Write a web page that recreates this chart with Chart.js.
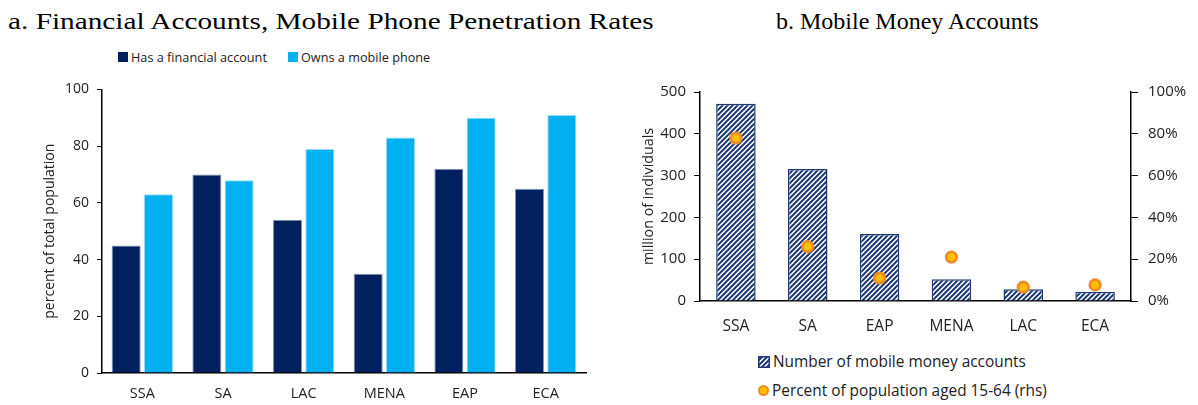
<!DOCTYPE html>
<html>
<head>
<meta charset="utf-8">
<script src="https://cdn.jsdelivr.net/npm/chart.js@4.4.1/dist/chart.umd.min.js"></script>
<style>
  html, body { margin: 0; padding: 0; background: #fff; }
  body { width: 1198px; height: 405px; position: relative; overflow: hidden; font-family: "Open Sans", "Noto Sans", sans-serif; color: #222; }
  .title { position: absolute; font-family: "Liberation Serif", "Times New Roman", serif; font-size: 24px; color: #000; white-space: nowrap; line-height: 1; transform-origin: 0 0; }
  .leg { position: absolute; font-size: 12.7px; white-space: nowrap; display: flex; align-items: center; color: #222; }
  .sw { display: inline-block; width: 10px; height: 10px; margin-right: 3px; }
  .wrap { position: absolute; }
</style>
</head>
<body>
<div class="title" style="left:8px; top:9px; transform: scaleX(1.22);">a. Financial Accounts, Mobile Phone Penetration Rates</div>
<div class="title" style="left:776px; top:9px;">b. Mobile Money Accounts</div>

<div class="leg" style="left:118px; top:48px;"><span class="sw" style="background:#002060"></span>Has a financial account</div>
<div class="leg" style="left:288px; top:48px;"><span class="sw" style="background:#00B0F0"></span>Owns a mobile phone</div>

<div class="wrap" style="left:0px; top:73px; width:600px; height:332px;"><canvas id="c1"></canvas></div>
<div class="wrap" style="left:600px; top:73px; width:598px; height:267px;"><canvas id="c2"></canvas></div>

<div class="leg" style="left:758px; top:351px; font-size:15.4px;"><canvas id="sw1" width="12" height="12" style="margin-right:3px"></canvas>Number of mobile money accounts</div>
<div class="leg" style="left:758px; top:380px; font-size:15.4px;"><span style="display:inline-block;width:7px;height:7px;border-radius:50%;background:#FFC000;border:2.5px solid #F08C28;margin-right:3px"></span>Percent of population aged 15-64 (rhs)</div>

<script>
// ---- Data ----
const regionsA = ["SSA", "SA", "LAC", "MENA", "EAP", "ECA"];
const hasAccount = [45, 70, 54, 35, 72, 65];
const ownsPhone = [63, 68, 79, 83, 90, 91];
const ticksA = [0, 20, 40, 60, 80, 100];

const regionsB = ["SSA", "SA", "EAP", "MENA", "LAC", "ECA"];
const mobileMoneyAccounts = [472, 316, 160, 52, 28, 22];
const percentPop = [78, 26, 11, 21, 6.6, 7.7];

const NAVY = "#002060";
const LIGHT = "#00B0F0";
const FONT = "'Open Sans', 'Noto Sans', sans-serif";

function makeHatch(size) {
  const c = document.createElement("canvas");
  c.width = size; c.height = size;
  const g = c.getContext("2d");
  g.fillStyle = "#fff"; g.fillRect(0, 0, size, size);
  g.strokeStyle = "#1F3A73"; g.lineWidth = 2;
  g.beginPath();
  g.moveTo(0, size); g.lineTo(size, 0);
  g.moveTo(-size, size); g.lineTo(size, -size);
  g.moveTo(0, 2 * size); g.lineTo(2 * size, 0);
  g.stroke();
  return g.createPattern(c, "repeat");
}

// legend swatch
(function () {
  const sc = document.getElementById("sw1");
  const g = sc.getContext("2d");
  g.fillStyle = makeHatch(5); g.fillRect(0, 0, 12, 12);
  g.strokeStyle = "#1F3A73"; g.lineWidth = 1.5; g.strokeRect(0.75, 0.75, 10.5, 10.5);
})();

// ---- Chart A ----
new Chart(document.getElementById("c1"), {
  type: "bar",
  data: {
    labels: regionsA,
    datasets: [
      { label: "Has a financial account", data: hasAccount, backgroundColor: NAVY, borderColor: "rgba(120,135,170,0.9)", borderWidth: 1, categoryPercentage: 0.8, barPercentage: 0.9 },
      { label: "Owns a mobile phone", data: ownsPhone, backgroundColor: LIGHT, borderColor: "rgba(150,220,250,1)", borderWidth: 1, categoryPercentage: 0.8, barPercentage: 0.9 }
    ]
  },
  options: {
    responsive: true, maintainAspectRatio: false, animation: false,
    layout: { padding: { left: 42, right: 14, top: 3, bottom: 0 } },
    plugins: { legend: { display: false }, tooltip: { enabled: false } },
    scales: {
      x: {
        grid: { display: false },
        border: { display: true, color: "#000", width: 1.5 },
        ticks: { color: "#222", font: { family: FONT, size: 14.5 }, padding: 4 },
        afterFit: s => { s.height = 32; }
      },
      y: {
        min: 0, max: 100,
        afterBuildTicks: s => { s.ticks = ticksA.map(v => ({ value: v })); },
        grid: { drawOnChartArea: false, drawTicks: true, tickLength: 5, color: "#000" },
        border: { display: true, color: "#000", width: 1.5 },
        ticks: { color: "#222", font: { family: FONT, size: 14 }, padding: 8 },
        title: { display: true, text: "percent of total population", color: "#222", font: { family: FONT, size: 14 }, padding: { top: 0, bottom: 0 } },
        afterFit: s => { s.width = 60; }
      }
    }
  }
});

// ---- Chart B ----
const hatch = makeHatch(5);
new Chart(document.getElementById("c2"), {
  type: "bar",
  data: {
    labels: regionsB,
    datasets: [
      { type: "line", label: "Percent of population aged 15-64 (rhs)", data: percentPop, yAxisID: "y1", showLine: false, pointRadius: 5.2, pointBorderWidth: 2.8, pointBackgroundColor: "#FFC000", pointBorderColor: "#F08C28", order: 0 },
      { type: "bar", label: "Number of mobile money accounts", data: mobileMoneyAccounts, yAxisID: "y", backgroundColor: hatch, borderColor: "#1F3A73", borderWidth: 1.5, categoryPercentage: 1, barPercentage: 0.55, order: 1 }
    ]
  },
  options: {
    responsive: true, maintainAspectRatio: false, animation: false,
    layout: { padding: { left: 40, right: 0, top: 6, bottom: 0 } },
    plugins: { legend: { display: false }, tooltip: { enabled: false } },
    scales: {
      x: {
        grid: { display: false },
        border: { display: true, color: "#000", width: 1.5 },
        ticks: { color: "#222", font: { family: FONT, size: 15.5 }, padding: 8 },
        afterFit: s => { s.height = 39; }
      },
      y: {
        position: "left", min: 0, max: 500,
        ticks: { stepSize: 100, color: "#222", font: { family: FONT, size: 15 }, padding: 8 },
        grid: { drawOnChartArea: false, drawTicks: true, tickLength: 6, color: "#000" },
        border: { display: true, color: "#000", width: 1.5 },
        title: { display: true, text: "million of individuals", color: "#222", font: { family: FONT, size: 14.3 }, padding: { top: 0, bottom: 0 } },
        afterFit: s => { s.width = 60; }
      },
      y1: {
        position: "right", min: 0, max: 100,
        ticks: { stepSize: 20, color: "#222", font: { family: FONT, size: 15 }, padding: 10, callback: v => v + "%" },
        grid: { drawOnChartArea: false, drawTicks: true, tickLength: 7, color: "#000" },
        border: { display: true, color: "#000", width: 1.5 },
        afterFit: s => { s.width = 67; }
      }
    }
  }
});
</script>
</body>
</html>
